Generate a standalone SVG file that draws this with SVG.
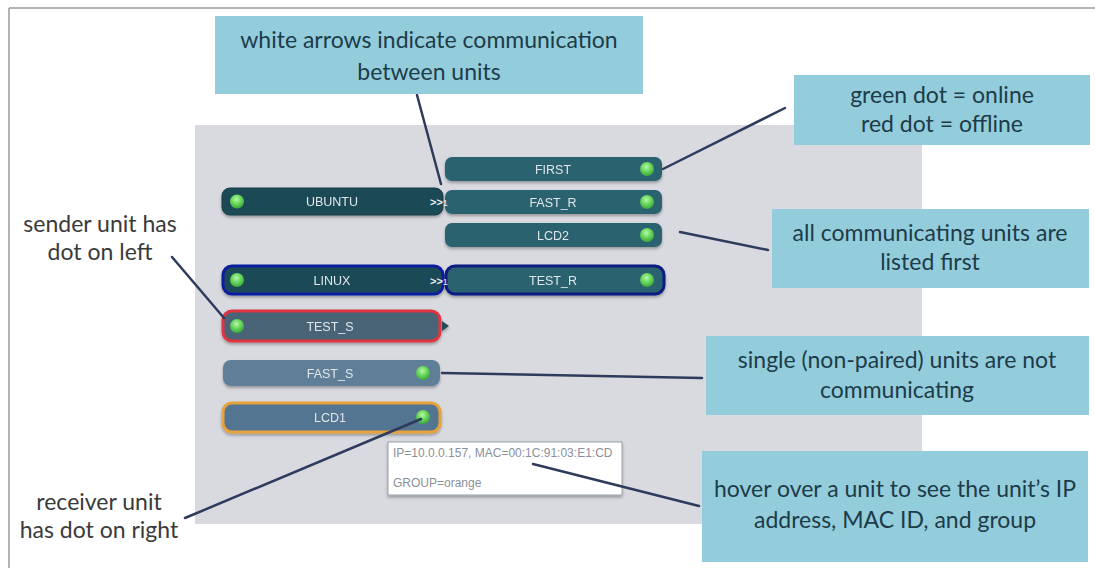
<svg xmlns="http://www.w3.org/2000/svg" width="1095" height="568" viewBox="0 0 1095 568">
<defs>
<radialGradient id="dot" cx="0.45" cy="0.35" r="0.65">
<stop offset="0" stop-color="#b8f7a8"/>
<stop offset="0.5" stop-color="#6ad85e"/>
<stop offset="1" stop-color="#3aa83a"/>
</radialGradient>
<filter id="sh" x="-5%" y="-20%" width="110%" height="150%">
<feDropShadow dx="0" dy="2" stdDeviation="1.5" flood-color="#000" flood-opacity="0.3"/>
</filter>
<style>
.callout{fill:#93cddc}
.ct{font-family:Lato,"Open Sans",sans-serif;font-size:23px;fill:#1d3b48;text-anchor:middle}
.lt{font-family:Lato,"Open Sans",sans-serif;font-size:23px;fill:#3a3a3a;text-anchor:middle}
.nl{font-family:"Liberation Sans",Arial,sans-serif;font-size:12.5px;fill:#dfe7ea;text-anchor:middle}
.mk{font-family:"Liberation Sans",Arial,sans-serif;font-size:11px;font-weight:bold;fill:#e8eef0}
.conn line{stroke:#2e3b5c;stroke-width:2.5;stroke-linecap:round}
.tip{font-family:"Liberation Sans",Arial,sans-serif;font-size:12px;fill:#8a8f9a}
</style>
</defs>
<rect x="0" y="0" width="1095" height="568" fill="#ffffff"/>
<g id="frame">
<line x1="9" y1="8" x2="1095" y2="8" stroke="#9a9a9a" stroke-width="1.5"/>
<line x1="9" y1="8" x2="9" y2="568" stroke="#9a9a9a" stroke-width="1.5"/>
</g>
<rect id="panel" x="195" y="125" width="727" height="399" fill="#d8dadf"/>

<g id="units">
<g id="node-ubuntu" filter="url(#sh)">
<rect x="222" y="188" width="221" height="27" rx="8" fill="#1e4a56" stroke="#173c46" stroke-width="1"/>
<circle cx="237" cy="201.5" r="7" fill="url(#dot)"/>
<text class="nl" x="332" y="206">UBUNTU</text>
</g>
<g id="node-first" filter="url(#sh)">
<rect x="445" y="157" width="217" height="24" rx="7" fill="#2b6270"/>
<circle cx="647" cy="169" r="7" fill="url(#dot)"/>
<text class="nl" x="553" y="173.5">FIRST</text>
</g>
<g id="node-fast-r" filter="url(#sh)">
<rect x="445" y="190" width="217" height="24" rx="7" fill="#2b6270"/>
<circle cx="647" cy="202" r="7" fill="url(#dot)"/>
<text class="nl" x="553" y="206.5">FAST_R</text>
</g>
<g id="node-lcd2" filter="url(#sh)">
<rect x="445" y="223" width="217" height="24" rx="7" fill="#2b6270"/>
<circle cx="647" cy="235" r="7" fill="url(#dot)"/>
<text class="nl" x="553" y="239.5">LCD2</text>
</g>
<g id="node-linux" filter="url(#sh)">
<rect x="223" y="266" width="220" height="28" rx="9" fill="#1e4a56" stroke="#0c1fa0" stroke-width="3"/>
<circle cx="237" cy="280" r="7" fill="url(#dot)"/>
<text class="nl" x="332" y="284.5">LINUX</text>
</g>
<g id="node-test-r" filter="url(#sh)">
<rect x="446" y="266" width="218" height="28" rx="9" fill="#2b6270" stroke="#0c1c80" stroke-width="3"/>
<circle cx="647" cy="280" r="7" fill="url(#dot)"/>
<text class="nl" x="553" y="284.5">TEST_R</text>
</g>
<g id="node-test-s" filter="url(#sh)">
<rect x="223" y="311" width="217" height="30" rx="9" fill="#4a6477" stroke="#e0343f" stroke-width="3"/>
<circle cx="237" cy="326" r="7" fill="url(#dot)"/>
<text class="nl" x="330" y="330.5">TEST_S</text>
<polygon points="442,321 449,326 442,331" fill="#2a4a58"/>
</g>
<g id="node-fast-s" filter="url(#sh)">
<rect x="223" y="360" width="217" height="26" rx="8" fill="#5e7e98"/>
<circle cx="423" cy="373" r="7" fill="url(#dot)"/>
<text class="nl" x="330" y="377.5">FAST_S</text>
</g>
<g id="node-lcd1" filter="url(#sh)">
<rect x="223" y="403" width="217" height="29" rx="9" fill="#537591" stroke="#e6a23a" stroke-width="3"/>
<circle cx="423" cy="417" r="7" fill="url(#dot)"/>
<text class="nl" x="330" y="421.5">LCD1</text>
</g>
<text class="mk" x="430" y="206">&gt;&gt;<tspan font-weight="normal" font-size="9">1</tspan></text>
<text class="mk" x="430" y="285">&gt;&gt;<tspan font-weight="normal" font-size="9">1</tspan></text>
</g>

<g id="tooltip">
<rect x="388" y="442" width="234" height="53" fill="#ffffff" stroke="#9aa0a8" stroke-width="1" filter="url(#sh)"/>
<text class="tip" x="393" y="457">IP=10.0.0.157, MAC=00:1C:91:03:E1:CD</text>
<text class="tip" x="393" y="487">GROUP=orange</text>
</g>

<g id="connectors" class="conn">
<line x1="417" y1="95" x2="441" y2="184"/>
<line x1="663" y1="169" x2="785" y2="108"/>
<line x1="680" y1="232" x2="768" y2="250"/>
<line x1="442" y1="373" x2="702" y2="378"/>
<line x1="533" y1="464" x2="699" y2="506"/>
<line x1="172" y1="257" x2="224" y2="318"/>
<line x1="185" y1="518" x2="421" y2="419"/>
</g>

<g id="callout-arrows">
<rect class="callout" x="215" y="16" width="428" height="78"/>
<text class="ct" x="429" y="48">white arrows indicate communication</text>
<text class="ct" x="429" y="80">between units</text>
</g>
<g id="callout-dots">
<rect class="callout" x="794" y="75" width="296" height="70"/>
<text class="ct" x="942" y="103">green dot = online</text>
<text class="ct" x="942" y="132">red dot = offline</text>
</g>
<g id="callout-listed">
<rect class="callout" x="772" y="209" width="317" height="79"/>
<text class="ct" x="930" y="241">all communicating units are</text>
<text class="ct" x="930" y="270">listed first</text>
</g>
<g id="callout-single">
<rect class="callout" x="706" y="336" width="383" height="79"/>
<text class="ct" x="897" y="368">single (non-paired) units are not</text>
<text class="ct" x="897" y="398">communicating</text>
</g>
<g id="callout-hover">
<rect class="callout" x="702" y="451" width="386" height="111"/>
<text class="ct" x="895" y="497">hover over a unit to see the unit’s IP</text>
<text class="ct" x="895" y="528">address, MAC ID, and group</text>
</g>
<g id="label-sender">
<text class="lt" x="100" y="232">sender unit has</text>
<text class="lt" x="100" y="260">dot on left</text>
</g>
<g id="label-receiver">
<text class="lt" x="99" y="510">receiver unit</text>
<text class="lt" x="99" y="538">has dot on right</text>
</g>
</svg>
